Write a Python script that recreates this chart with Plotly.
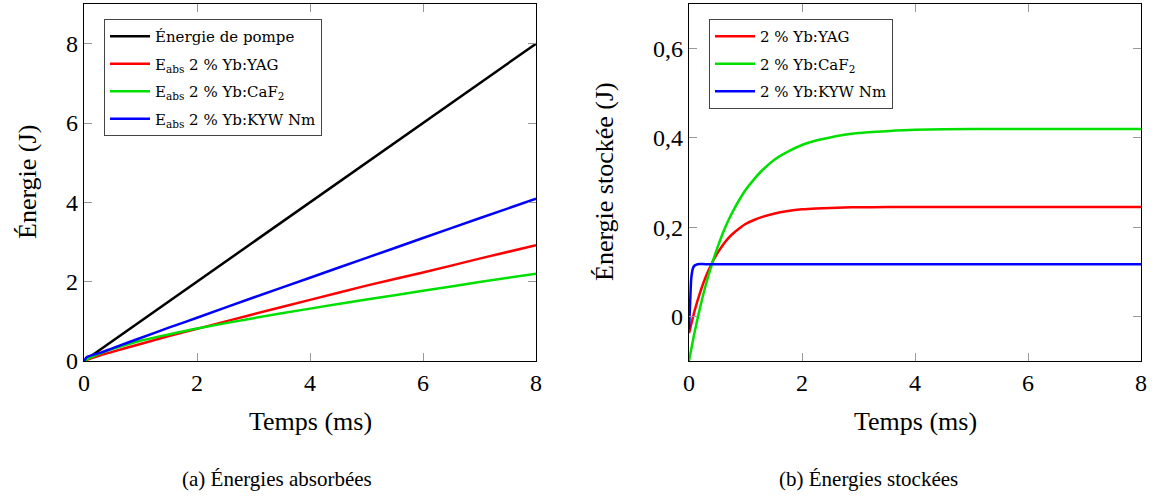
import plotly.graph_objects as go

# --- (a) énergies absorbées ---
t_pompe = [0, 8]
e_pompe = [0, 8]

t_abs = [0, 0.05, 0.15, 0.3, 0.5, 1, 1.5, 2, 3, 4, 5, 6, 7, 8]
abs_yag = [0, 0.03, 0.08, 0.15, 0.23, 0.43, 0.63, 0.81, 1.18, 1.54, 1.9, 2.23, 2.58, 2.92]
abs_caf2 = [0, 0.04, 0.11, 0.2, 0.3, 0.51, 0.67, 0.82, 1.08, 1.32, 1.55, 1.77, 1.99, 2.2]
abs_kyw = [0, 0.1, 0.15, 0.21, 0.32, 0.58, 0.84, 1.09, 1.6, 2.1, 2.6, 3.1, 3.6, 4.09]

# --- (b) énergies stockées ---
t_sto = [0, 0.1, 0.2, 0.3, 0.4, 0.5, 0.6, 0.7, 0.8, 0.9, 1.0, 1.15, 1.3, 1.5, 1.75,
         2, 2.25, 2.5, 2.75, 3, 3.5, 4, 5, 6, 8]
sto_yag = [-0.038, 0.013, 0.055, 0.09, 0.118, 0.141, 0.16, 0.176, 0.188, 0.198, 0.207,
           0.216, 0.223, 0.23, 0.236, 0.24, 0.242, 0.243, 0.244, 0.2445, 0.245, 0.245,
           0.245, 0.245, 0.245]
sto_caf2 = [-0.1, -0.035, 0.022, 0.072, 0.115, 0.153, 0.187, 0.216, 0.241, 0.263, 0.283,
            0.307, 0.328, 0.35, 0.369, 0.384, 0.394, 0.401, 0.407, 0.411, 0.415, 0.418,
            0.42, 0.42, 0.42]
t_kyw = [0, 0.02, 0.04, 0.07, 0.1, 0.15, 0.3, 8]
sto_kyw = [-0.03, 0.03, 0.085, 0.108, 0.114, 0.117, 0.117, 0.117]

x_ticks = [0, 2, 4, 6, 8]
ya_ticks = [0, 2, 4, 6, 8]
yb_ticks = [0, 0.2, 0.4, 0.6]
yb_labels = ["0", "0,2", "0,4", "0,6"]

ROUGE, VERT, BLEU = "#ff0000", "#00e000", "#0000ff"
FONT = "Liberation Serif"
W, H = 1159, 497

fig = go.Figure()

def courbe(x, y, nom, couleur, xa, ya, leg, grp, spline=True):
    fig.add_trace(go.Scatter(
        x=x, y=y, name=nom, mode="lines", xaxis=xa, yaxis=ya, legend=leg,
        legendgroup=grp,
        line=dict(color=couleur, width=2.5, shape="spline" if spline else "linear",
                  smoothing=0.6),
    ))

courbe(t_pompe, e_pompe, "Énergie de pompe", "black", "x", "y", "legend", "a0", False)
courbe(t_abs, abs_yag, "E<sub>abs</sub> 2 % Yb:YAG", ROUGE, "x", "y", "legend", "a1")
courbe(t_abs, abs_caf2, "E<sub>abs</sub> 2 % Yb:CaF<sub>2</sub>", VERT, "x", "y", "legend", "a2")
courbe(t_abs, abs_kyw, "E<sub>abs</sub> 2 % Yb:KYW Nm", BLEU, "x", "y", "legend", "a3")

courbe(t_sto, sto_yag, "2 % Yb:YAG", ROUGE, "x2", "y2", "legend2", "b1")
courbe(t_sto, sto_caf2, "2 % Yb:CaF<sub>2</sub>", VERT, "x2", "y2", "legend2", "b2")
courbe(t_kyw, sto_kyw, "2 % Yb:KYW Nm", BLEU, "x2", "y2", "legend2", "b3")

def px_x(p):
    return p / W

def px_y(p):
    return 1 - p / H

axe = dict(showline=True, linecolor="black", linewidth=1.2, mirror="ticks",
           ticks="inside", ticklen=8, tickcolor="#999999", showgrid=False,
           zeroline=False, automargin=False,
           tickfont=dict(family=FONT, size=24, color="black"))

ydom = [px_y(361), px_y(4)]
leg = dict(xanchor="left", yanchor="top", bordercolor="#444444", borderwidth=1,
           bgcolor="white", font=dict(family="DejaVu Serif", size=15, color="black"),
           traceorder="grouped", tracegroupgap=5, itemwidth=40)
fig.update_layout(
    width=W, height=H, margin=dict(l=0, r=0, t=0, b=0, autoexpand=False),
    paper_bgcolor="white", plot_bgcolor="white", showlegend=True,
    xaxis=dict(axe, domain=[px_x(84), px_x(536)], range=[0, 8], tickvals=x_ticks, anchor="y"),
    yaxis=dict(axe, domain=ydom, range=[0, 9.0], tickvals=ya_ticks, anchor="x"),
    xaxis2=dict(axe, domain=[px_x(689), px_x(1141)], range=[0, 8], tickvals=x_ticks, anchor="y2"),
    yaxis2=dict(axe, domain=ydom, range=[-0.1, 0.7], tickvals=yb_ticks,
                ticktext=yb_labels, anchor="x2"),
    legend=dict(leg, x=px_x(104), y=px_y(19)),
    legend2=dict(leg, x=px_x(709), y=px_y(19)),
)

annots = [
    ("Temps (ms)", 310, 421, 0, 26),
    ("Temps (ms)", 915, 421, 0, 26),
    ("Énergie (J)", 28, 182, -90, 26),
    ("Énergie stockée (J)", 605, 182, -90, 26),
    ("(a) Énergies absorbées", 277, 479, 0, 21),
    ("(b) Énergies stockées", 868, 479, 0, 21),
]
for texte, x, y, rot, taille in annots:
    fig.add_annotation(text=texte, x=px_x(x), y=px_y(y), xref="paper", yref="paper",
                       showarrow=False, textangle=rot, xanchor="center", yanchor="middle",
                       font=dict(family=FONT, size=taille, color="black"))

# supprime la marge par défaut du <body> pour caler le graphique sur la fenêtre
fig.write_html("out.html", config={"displayModeBar": False},
               post_script="document.body.style.margin='0';")
